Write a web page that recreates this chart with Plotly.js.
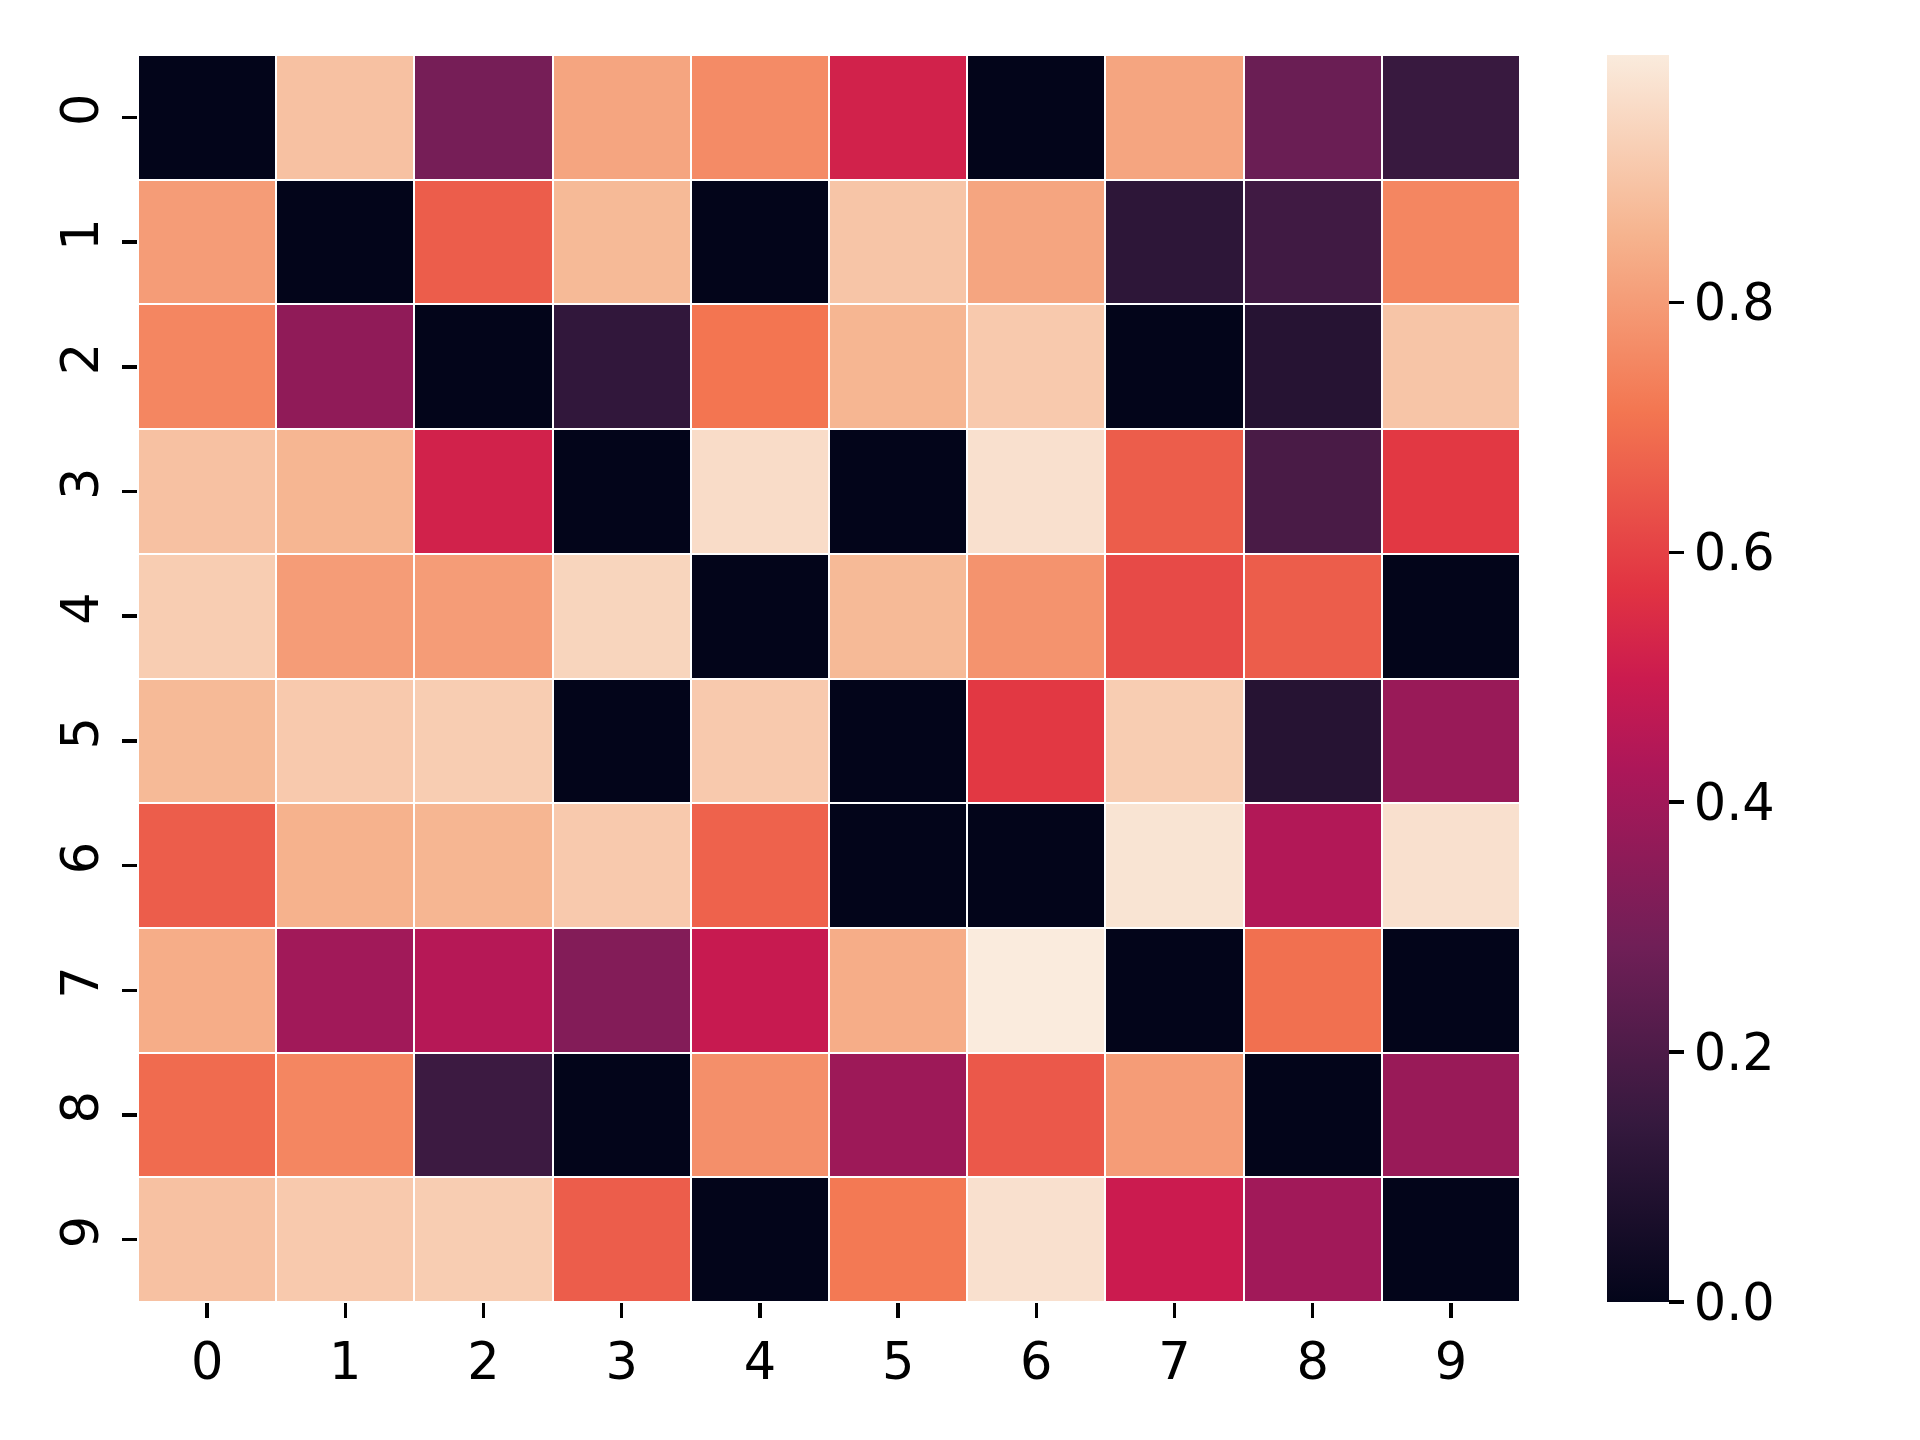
<!DOCTYPE html>
<html>
<head>
<meta charset="utf-8">
<script src="https://cdn.plot.ly/plotly-3.0.1.min.js"></script>
<style>html,body{margin:0;padding:0;background:#fff;}#chart{width:1920px;height:1440px;}</style>
</head>
<body>
<div id="chart"></div>
<script>
var colLabels = ['0','1','2','3','4','5','6','7','8','9'];
var rowLabels = ['0','1','2','3','4','5','6','7','8','9'];
var row0 = [0.00, 0.89, 0.30, 0.82, 0.76, 0.52, 0.00, 0.82, 0.27, 0.15];
var row1 = [0.80, 0.00, 0.66, 0.87, 0.00, 0.90, 0.82, 0.12, 0.17, 0.75];
var row2 = [0.75, 0.36, 0.00, 0.13, 0.71, 0.86, 0.91, 0.00, 0.10, 0.90];
var row3 = [0.89, 0.86, 0.52, 0.00, 0.96, 0.00, 0.97, 0.66, 0.19, 0.58];
var row4 = [0.92, 0.80, 0.80, 0.94, 0.00, 0.87, 0.78, 0.62, 0.66, 0.00];
var row5 = [0.87, 0.91, 0.92, 0.00, 0.91, 0.00, 0.58, 0.92, 0.10, 0.38];
var row6 = [0.66, 0.85, 0.86, 0.91, 0.67, 0.00, 0.00, 0.98, 0.44, 0.97];
var row7 = [0.84, 0.40, 0.45, 0.33, 0.49, 0.84, 0.998, 0.00, 0.70, 0.00];
var row8 = [0.69, 0.75, 0.16, 0.00, 0.77, 0.39, 0.65, 0.80, 0.00, 0.38];
var row9 = [0.89, 0.91, 0.92, 0.66, 0.00, 0.72, 0.97, 0.50, 0.40, 0.00];
var cbTickVals = [0.0, 0.2, 0.4, 0.6, 0.8];
var cbTickText = ['0.0', '0.2', '0.4', '0.6', '0.8'];

var z = [row0,row1,row2,row3,row4,row5,row6,row7,row8,row9];

var rocket = [
  [0.0, '#03051a'],
  [1/7, '#35193e'],
  [2/7, '#701f57'],
  [3/7, '#ad1759'],
  [0.5, '#cb1b4f'],
  [4/7, '#e13342'],
  [5/7, '#f37651'],
  [6/7, '#f6b48f'],
  [1.0, '#faebdd']
];

var fontFam = 'DejaVu Sans, sans-serif';
var fs = 51;
var trace = {
  type: 'heatmap',
  z: z,
  x: colLabels,
  y: rowLabels,
  colorscale: rocket,
  zmin: 0,
  xgap: 2,
  ygap: 2,
  hoverongaps: false,
  colorbar: {
    x: 1.063,
    xanchor: 'left',
    xref: 'paper',
    y: 0,
    yanchor: 'bottom',
    len: 1,
    lenmode: 'fraction',
    thickness: 62,
    thicknessmode: 'pixels',
    outlinewidth: 0,
    ticks: 'outside',
    ticklen: 15,
    tickwidth: 3.5,
    tickcolor: '#000',
    tickvals: cbTickVals,
    ticktext: cbTickText,
    tickfont: {family: fontFam, size: fs, color: '#000'},
    xpad: 0,
    ypad: 0
  }
};

var layout = {
  width: 1920,
  height: 1440,
  margin: {l: 138, r: 400, t: 55, b: 138},
  paper_bgcolor: '#fff',
  plot_bgcolor: '#fff',
  font: {family: fontFam, size: fs, color: '#000'},
  xaxis: {
    type: 'category',
    showgrid: false,
    zeroline: false,
    showline: false,
    ticks: 'outside',
    ticklen: 15,
    tickwidth: 3.5,
    tickcolor: '#000',
    tickfont: {family: fontFam, size: fs, color: '#000'},
    ticklabelstandoff: 0
  },
  yaxis: {
    type: 'category',
    autorange: 'reversed',
    showgrid: false,
    zeroline: false,
    showline: false,
    ticks: 'outside',
    ticklen: 15,
    tickwidth: 3.5,
    tickcolor: '#000',
    tickangle: -90,
    tickfont: {family: fontFam, size: fs, color: '#000'},
    ticklabelstandoff: 4
  }
};

Plotly.newPlot('chart', [trace], layout, {displayModeBar: false, staticPlot: true});
</script>
</body>
</html>
